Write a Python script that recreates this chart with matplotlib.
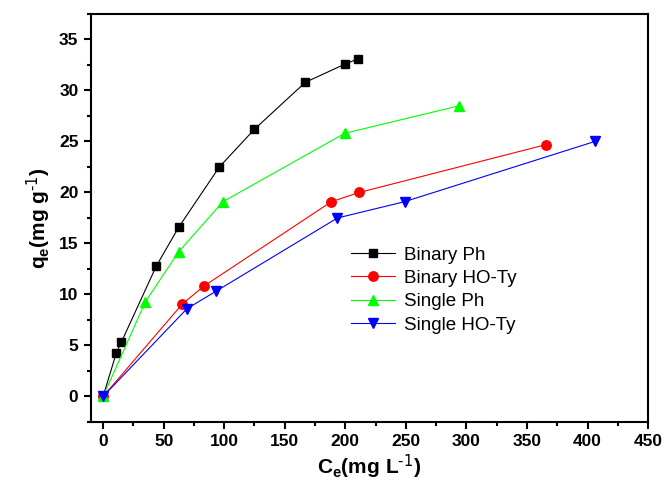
import numpy as np
import matplotlib.pyplot as plt
from matplotlib.ticker import MultipleLocator

plt.rcParams['font.family'] = ['Liberation Sans', 'DejaVu Sans']
plt.rcParams['mathtext.default'] = 'regular'

# data
bin_ph_x = [0, 11, 15, 44, 62.5, 96, 125, 167, 200, 210.5]
bin_ph_y = [0, 4.3, 5.3, 12.8, 16.6, 22.5, 26.2, 30.8, 32.6, 33.1]

bin_ty_x = [0, 65.3, 83, 188.5, 211.5, 366]
bin_ty_y = [0, 9.05, 10.8, 19.1, 20.0, 24.7]

sgl_ph_x = [0, 35, 62.5, 99, 199.5, 294]
sgl_ph_y = [0, 9.3, 14.2, 19.1, 25.8, 28.5]

sgl_ty_x = [0, 69.2, 93, 193.5, 249, 406]
sgl_ty_y = [0, 8.6, 10.3, 17.5, 19.1, 25.0]

fig = plt.figure(figsize=(6.64, 4.82), dpi=100)
ax = fig.add_axes([0.137, 0.1245, 0.839, 0.8465])

ax.plot(bin_ph_x, bin_ph_y, color='black', lw=0.8, marker='s', ms=6.2, label='Binary Ph')
ax.plot(bin_ty_x, bin_ty_y, color='red', lw=0.8, marker='o', ms=6.8, label='Binary HO-Ty')
ax.plot(sgl_ph_x, sgl_ph_y, color='#00ff00', lw=0.8, marker='^', ms=7.8, label='Single Ph')
ax.plot(sgl_ty_x, sgl_ty_y, color='blue', lw=0.8, marker='v', ms=7.8, label='Single HO-Ty')

ax.set_xlim(-10, 450)
ax.set_ylim(-2.5, 37.5)
ax.xaxis.set_major_locator(MultipleLocator(50))
ax.xaxis.set_minor_locator(MultipleLocator(25))
ax.yaxis.set_major_locator(MultipleLocator(5))
ax.yaxis.set_minor_locator(MultipleLocator(2.5))
ax.tick_params(which='major', direction='out', length=5, width=1.5, labelsize=12.5, pad=4)
ax.tick_params(which='minor', direction='out', length=3, width=1.5)
for lab in ax.get_xticklabels() + ax.get_yticklabels():
    lab.set_fontweight('bold')
for s in ax.spines.values():
    s.set_linewidth(1.5)

ax.set_xlabel(r'C$_e$(mg L$^{\text{-1}}$)', fontsize=15, fontweight='bold', labelpad=2)
ax.set_ylabel(r'q$_e$(mg g$^{\text{-1}}$)', fontsize=15, fontweight='bold', labelpad=4)

ax.legend(loc='upper left', bbox_to_anchor=(0.467, 0.43), frameon=False, fontsize=13.5,
          handlelength=2.35, handletextpad=0.45, labelspacing=0.33, borderpad=0,
          borderaxespad=0)

fig.savefig('out.png', dpi=100)
